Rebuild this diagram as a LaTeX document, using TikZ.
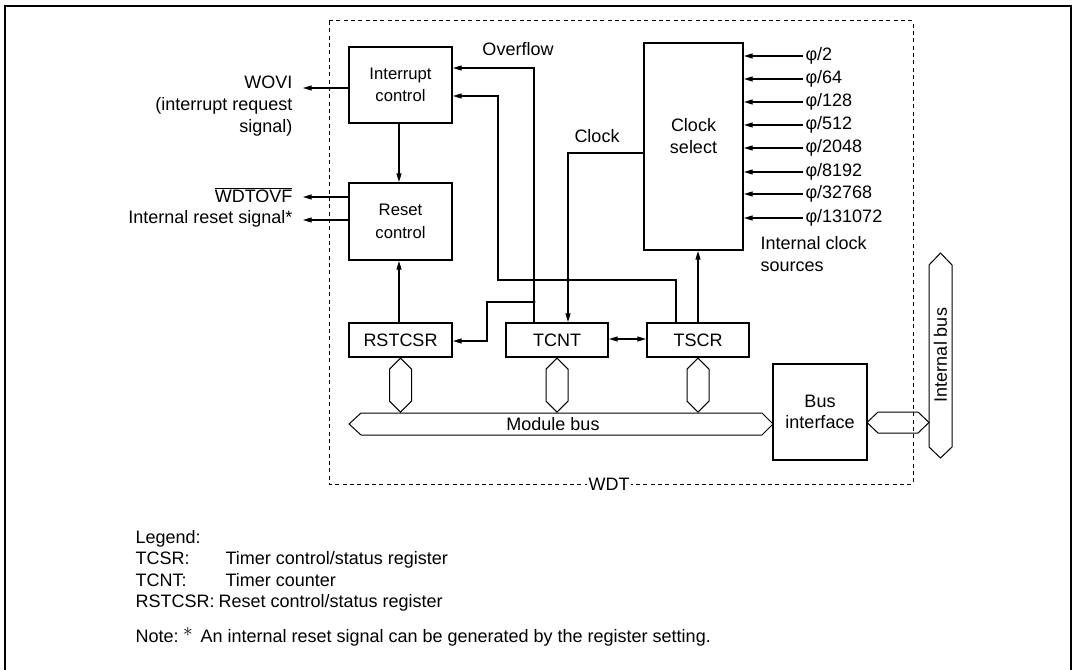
\documentclass[tikz,border=0pt]{standalone}
\usepackage{fontspec}
\setmainfont{Liberation Sans}
\usetikzlibrary{arrows.meta,calc}
\begin{document}
\begin{tikzpicture}[x=0.75pt,y=-0.75pt,
  font=\fontsize{13.5}{16.5}\selectfont,
  line width=0.8pt,
  blk/.style={draw,line width=1.6pt,inner sep=0pt,align=center},
  smallblk/.style={blk,font=\fontsize{12.5}{17}\selectfont},
  arr/.style={-{Triangle[length=6.5pt,width=3.8pt]}},
  darr/.style={{Triangle[length=6.5pt,width=3.8pt]}-{Triangle[length=6.5pt,width=3.8pt]}},
  busline/.style={draw,line width=0.75pt,line join=miter},
  lbl/.style={inner sep=0pt},
  wdtbox/.style={draw,line width=0.75pt,dash pattern=on 3pt off 2.5pt},
]
\useasboundingbox (0,0) rectangle (1075,670);
% outer frame
\draw[line width=1.5pt] (5,675) -- (5,6) -- (1071,6) -- (1071,675);

% blocks
\node[smallblk,minimum width=77.25pt,minimum height=57pt] (intc) at (400.5,85) {Interrupt\\control};
\node[smallblk,minimum width=77.25pt,minimum height=57.75pt] (rstc) at (400.5,221.5) {Reset\\control};
\node[blk,minimum width=74.25pt,minimum height=155.25pt] (clks) at (693.5,146.5) {};
\node[lbl,align=center] (clkslbl) at (693.5,136) {Clock\\select};
\node[blk,minimum width=77.25pt,minimum height=25.5pt] (rstcsr) at (400.5,340) {RSTCSR};
\node[blk,minimum width=76.5pt,minimum height=25.5pt] (tcnt) at (557,340) {TCNT};
\node[blk,minimum width=76.5pt,minimum height=25.5pt] (tscr) at (698,340) {TSCR};
\node[blk,minimum width=70.5pt,minimum height=72pt,font=\fontsize{13.5}{15.75}\selectfont] (busif) at (820,412) {Bus\\interface};

% outputs on the left
\coordinate (woviend) at (303,88);
\coordinate (wdtend) at (303,197);
\coordinate (irsend) at (303,220);
\draw[arr] (intc.west |- woviend) -- (woviend);
\draw[arr] (rstc.west |- wdtend) -- (wdtend);
\draw[arr] (rstc.west |- irsend) -- (irsend);
\node[lbl,anchor=east,align=right] (wovi) at (293,106) {WOVI\\(interrupt request\\signal)};
\node[lbl,anchor=east] (wdtovf) at (293,195) {$\overline{\hbox{WDTOVF}}$};
\node[lbl,anchor=east] (irs) at (293,219) {Internal reset signal*};

% interrupt -> reset, rstcsr -> reset
\draw[arr] (intc.south -| 399,0) -- (rstc.north -| 399,0);
\draw[arr] (rstcsr.north -| 399,0) -- (rstc.south -| 399,0);

% overflow
\coordinate (ov) at (534,68);
\coordinate (ovdot) at (534,302);
\draw[arr] (tcnt.north -| ov) -- (ov) -- (intc.east |- ov);
\fill (ovdot) circle[radius=1.3pt];
\draw[arr] (ovdot) -- (487,302) -- (487,341) -- (rstcsr.east |- 0,341);
\node[lbl] (ovlbl) at (518,49) {Overflow};

% TSCR -> interrupt control
\draw[arr] (tscr.north -| 676,0) -- (676,280) -- (498,280) -- (498,96) -- (intc.east |- 0,96);

% clock
\draw[arr] (clks.west |- 0,153) -- (568,153) -- (tcnt.north -| 568,0);
\node[lbl] (clklbl) at (597,136) {Clock};

% TSCR -> clock select
\draw[arr] (tscr.north) -- (tscr.north |- clks.south);

% TCNT <-> TSCR
\draw[darr] (tcnt.east |- 0,339) -- (tscr.west |- 0,339);

% clock sources
\foreach \yy/\tt [count=\i] in {56/2,79/64,102/128,125/512,148/2048,172/8192,194/32768,218/131072}{
  \node[lbl,anchor=west] (ph\i) at (805,\yy) {φ/\tt};
  \draw[arr] (803,\yy) -- (clks.east |- 0,\yy);
}
\node[lbl,anchor=west,align=left] (icsrc) at (760,254.5) {Internal clock\\sources};

% module bus connectors
\foreach \nn in {rstcsr,tcnt,tscr}{
  \draw[busline] (\nn.south) -- ++(11,11) -- ++(0,32) -- ++(-11,11) -- ++(-11,-11) -- ++(0,-32) -- cycle;
}
\draw[busline] (349,424) -- (361,413) -- (762,413) -- (773,424) -- (762,435) -- (361,435) -- cycle;
\node[lbl] (mbus) at (553,424) {Module bus};

% bus interface to internal bus
\draw[busline] (867,422.5) -- (878,412) -- (918,412) -- (929,422.5) -- (918,433) -- (878,433) -- cycle;
\draw[busline] (940.5,253) -- (952,265) -- (952,447) -- (940.5,458) -- (929,447) -- (929,265) -- cycle;
\node[lbl,rotate=90] (ibus) at (940.5,355) {Internal bus};

% WDT dashed box
\draw[wdtbox] (329,21) rectangle (913,484);
\node[fill=white,inner sep=1.5pt] (wdt) at (609,484) {WDT};

% legend
\node[lbl,anchor=base west] (lg) at (135,543) {Legend:};
\node[lbl,anchor=base west] (lg1) at (135,564) {TCSR:};
\node[lbl,anchor=base west] (lg1d) at (225,564) {Timer control/status register};
\node[lbl,anchor=base west] (lg2) at (135,586) {TCNT:};
\node[lbl,anchor=base west] (lg2d) at (225,586) {Timer counter};
\node[lbl,anchor=base west] (lg3) at (135,607) {RSTCSR:};
\node[lbl,anchor=base west] (lg3d) at (218,607) {Reset control/status register};
\node[lbl,anchor=base west] (nt) at (135,642) {Note:};
\node[lbl] (ntstar) at (188,632) {$\ast$};
\node[lbl,anchor=base west] (ntd) at (200,642) {An internal reset signal can be generated by the register setting.};
\end{tikzpicture}
\end{document}
